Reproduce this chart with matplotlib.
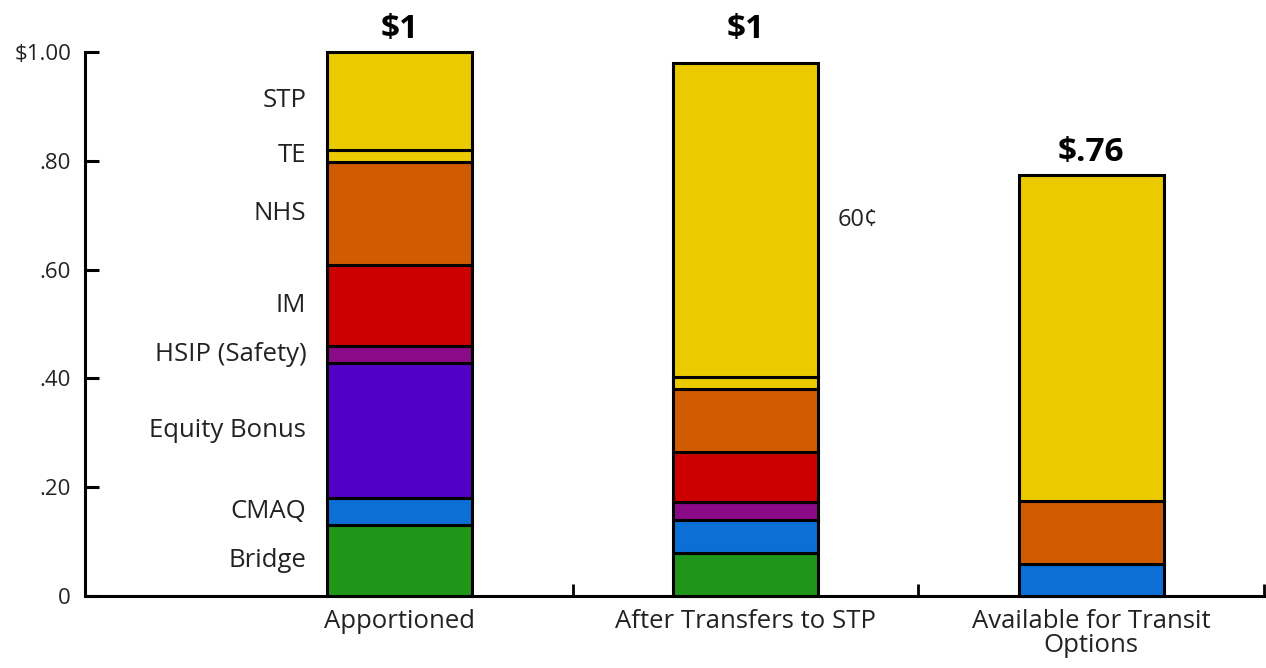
import numpy as np
import matplotlib
matplotlib.use("Agg")
import matplotlib.pyplot as plt

plt.rcParams['font.family'] = ['Open Sans', 'DejaVu Sans']

# categories (bars) and stacked programs, bottom to top
kategorier = ["Apportioned", "After Transfers to STP", "Available for Transit\nOptions"]
programmer = ["Bridge", "CMAQ", "Equity Bonus", "HSIP (Safety)", "IM", "NHS", "TE", "STP"]

bridge = [0.13, 0.079, 0.0]
cmaq = [0.05, 0.061, 0.059]
equity = [0.248, 0.0, 0.0]
hsip = [0.032, 0.033, 0.0]
im = [0.148, 0.092, 0.0]
nhs = [0.19, 0.115, 0.116]
te = [0.022, 0.023, 0.0]
stp = [0.18, 0.577, 0.599]

topp_tekst = ["$1", "$1", "$.76"]
stp_tekst = "60¢"

farger = ["#1f9617", "#0b6fd6", "#5200c8", "#8a0a88", "#cc0000", "#d15b00", "#ebcb00", "#ebcb00"]

serier = [bridge, cmaq, equity, hsip, im, nhs, te, stp]

fig = plt.figure(figsize=(12.66, 6.68), dpi=100)
ax = fig.add_axes([85 / 1266, 72 / 668, 1 - 85 / 1266, 544 / 668])

x = np.arange(len(kategorier))
bredde = 0.42
bunn = np.zeros(len(kategorier))
for navn, verdier, farge in zip(programmer, serier, farger):
    verdier = np.array(verdier)
    maske = verdier > 0
    ax.bar(x[maske], verdier[maske], bredde, bottom=bunn[maske], color=farge,
           edgecolor="black", linewidth=2.2, clip_on=False, zorder=3)
    # etiketter til venstre for første søyle
    if verdier[0] > 0:
        ax.text(x[0] - bredde / 2 - 0.06, bunn[0] + verdier[0] / 2, navn,
                ha="right", va="center", fontsize=18.5, color="#222222")
    bunn = bunn + verdier

# 60 cent label beside STP in bar 2
ax.text(x[1] + bredde / 2 + 0.055, bunn[1] - stp[1] / 2, stp_tekst,
        ha="left", va="center", fontsize=17, color="#222222")

# totals above the bars
for i, tekst in enumerate(topp_tekst):
    y = 1.0 if tekst == "$1" else bunn[i]
    ax.annotate(tekst, (x[i], y), xytext=(0, 4), textcoords="offset points",
                ha="center", va="bottom", fontsize=24, fontweight="bold",
                annotation_clip=False)

ax.set_xlim(-0.91, 2.505)
ax.set_ylim(0, 1.0)

ax.set_yticks([0, 0.2, 0.4, 0.6, 0.8, 1.0])
ax.set_yticklabels(["0", ".20", ".40", ".60", ".80", "$1.00"], fontsize=16, color="#222222")
ax.set_xticks(x)
ax.set_xticklabels(kategorier, fontsize=18.5, color="#222222", linespacing=0.95)
ax.set_xticks([0.5, 1.5, 2.5], minor=True)
ax.tick_params(axis="x", which="major", length=0, pad=9)
ax.tick_params(axis="x", which="minor", direction="in", length=9, width=2)
ax.tick_params(axis="y", direction="in", length=10, width=2.2, pad=10)

for s in ["top", "right"]:
    ax.spines[s].set_visible(False)
for s in ["left", "bottom"]:
    ax.spines[s].set_linewidth(2.2)

fig.savefig("out.png", dpi=100)
